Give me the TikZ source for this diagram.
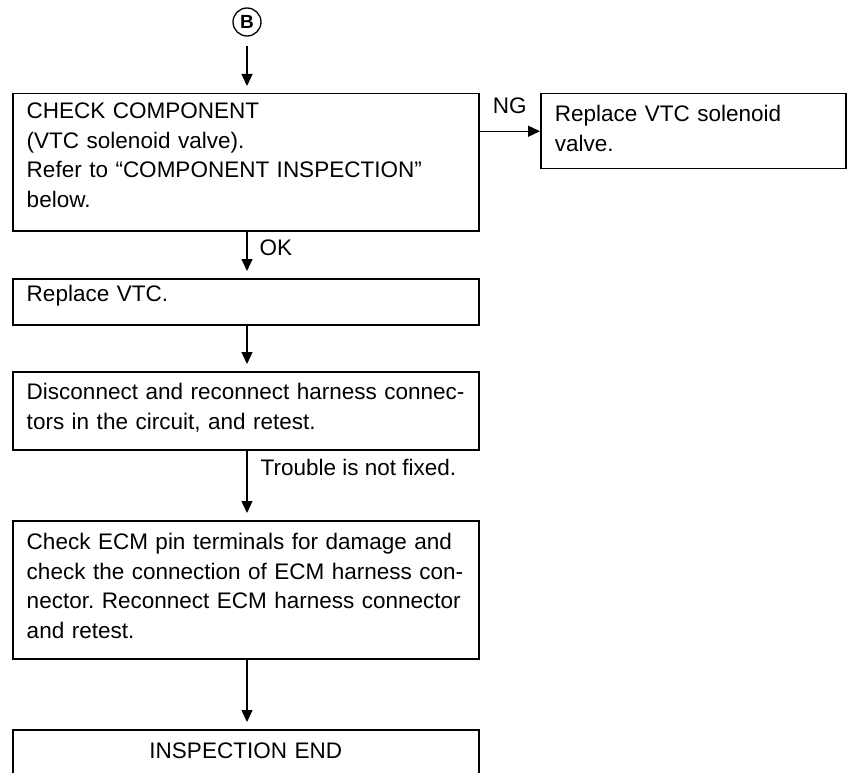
\documentclass[tikz,border=0pt]{standalone}
\usepackage{fontspec}
\setmainfont{Liberation Sans}
\usetikzlibrary{arrows.meta,positioning,calc}
\frenchspacing
\tikzset{
  % flow chart box, text set from the top left
  stepbox/.style={rectangle, draw, line width=1.5pt, anchor=north west, text width=438pt,
                  align=left, inner xsep=14pt, inner ysep=0pt, font=\fontsize{22.5}{29.5}\selectfont},
  % flow arrow
  flowarrow/.style={-{Triangle[length=12pt,width=11pt]}, line width=1.3pt, shorten >=7pt},
  % label beside an arrow
  arrlabel/.style={font=\fontsize{22.5}{29.5}\selectfont, inner sep=0pt},
  % circled page connector
  refnode/.style={circle, draw, line width=1.3pt, minimum size=28pt, inner sep=0pt,
                  font=\bfseries\fontsize{19}{19}\selectfont},
}
\begin{document}
\begin{tikzpicture}[x=1pt, y=-1pt]
  \clip (0,0) rectangle (849,773);
  % connector from previous page
  \node[refnode] (b) at (247,22) {B};
  % boxes
  \node[stepbox, text height=25pt, text depth=112pt] (chk) at (12,93)
    {CHECK COMPONENT\\(VTC solenoid valve).\\Refer to “COMPONENT INSPECTION”\\below.};
  \node[stepbox, text width=277pt, text height=28pt, text depth=47pt] (sol) at (540,93)
    {Replace VTC solenoid\\valve.};
  \node[stepbox, text height=23pt, text depth=23pt] (rvtc) at (12,278) {Replace VTC.};
  \node[stepbox, text height=28pt, text depth=50pt] (disc) at (12,371)
    {Disconnect and reconnect harness connec-\\tors in the circuit, and retest.};
  \node[stepbox, text height=29pt, text depth=109pt] (ecm) at (12,520)
    {Check ECM pin terminals for damage and\\check the connection of ECM harness con-\\nector. Reconnect ECM harness connector\\and retest.};
  \node[stepbox, align=center, text height=29pt, text depth=70pt] (endn) at (12,729)
    {INSPECTION END};
  % arrows
  \draw[flowarrow, shorten <=9pt] (b) -- (chk.north -| b);
  \draw[flowarrow, shorten >=0pt] (chk.east |- sol.west)
    -- node[arrlabel, above=17pt] {NG} (sol.west);
  \draw[flowarrow] (chk.south -| b)
    -- node[arrlabel, right=12pt, pos=0.36] {OK} (rvtc.north -| b);
  \draw[flowarrow] (rvtc.south -| b) -- (disc.north -| b);
  \draw[flowarrow] (disc.south -| b)
    -- node[arrlabel, right=13pt, pos=0.25] {Trouble is not fixed.} (ecm.north -| b);
  \draw[flowarrow] (ecm.south -| b) -- (endn.north -| b);
\end{tikzpicture}
\end{document}
